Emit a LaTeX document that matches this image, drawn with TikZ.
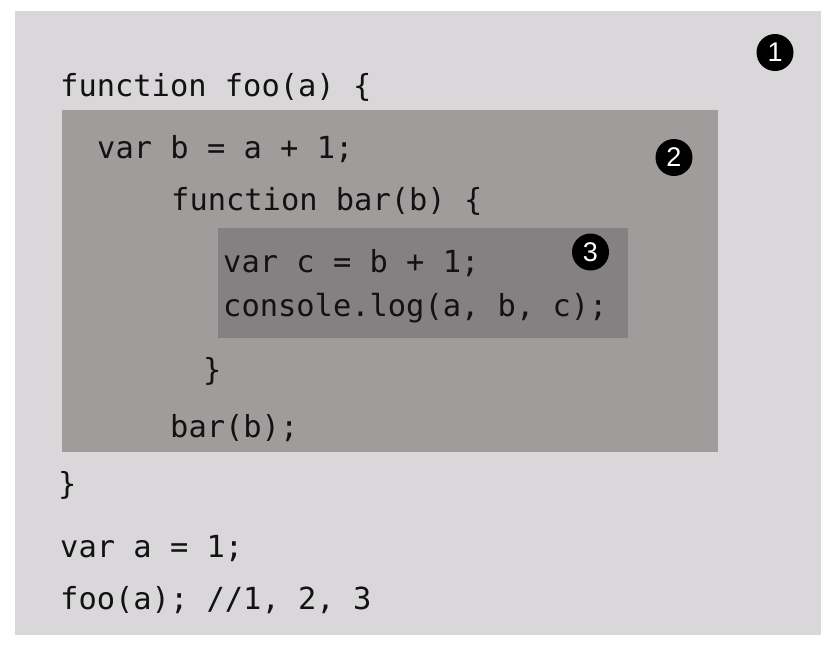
\documentclass[tikz,border=0pt]{standalone}
\usepackage{fontspec}
\setmonofont{DejaVu Sans Mono}
\newfontfamily\numfont{Liberation Sans}
\definecolor{outerbg}{RGB}{217,215,218}
\definecolor{midbg}{RGB}{161,156,156}
\definecolor{innerbg}{RGB}{133,129,130}
\definecolor{codeink}{RGB}{18,18,18}
\begin{document}
\begin{tikzpicture}[x=1pt,y=-1pt,
  code/.style={anchor=base west, inner sep=0pt, text=codeink,
    font=\ttfamily\fontsize{30.4}{36}\selectfont},
  badge/.style={circle, fill=black, inner sep=0pt, minimum size=37pt,
    text=white, font=\numfont\fontsize{27}{30}\selectfont}]
\useasboundingbox (0,0) rectangle (838,654);
\fill[white] (0,0) rectangle (838,654);
\fill[outerbg] (15,11) rectangle (821,635);
\fill[midbg] (62,110) rectangle (718,452);
\fill[innerbg] (218,228) rectangle (628,338);
\node[code] (l1) at (60,96) {function foo(a) \{};
\node[code] (l2) at (97,158) {var b = a + 1;};
\node[code] (l3) at (171,210) {function bar(b) \{};
\node[code] (l4) at (223,272) {var c = b + 1;};
\node[code] (l5) at (223,316) {console.log(a, b, c);};
\node[code] (l6) at (203,380) {\}};
\node[code] (l7) at (170,437) {bar(b);};
\node[code] (l8) at (58,494) {\}};
\node[code] (l9) at (60,557) {var a = 1;};
\node[code] (l10) at (60,609) {foo(a); //1, 2, 3};
\node[badge] (b1) at (775,52.5) {1};
\node[badge] (b2) at (674,157.5) {2};
\node[badge] (b3) at (590.5,252) {3};
\end{tikzpicture}
\end{document}
